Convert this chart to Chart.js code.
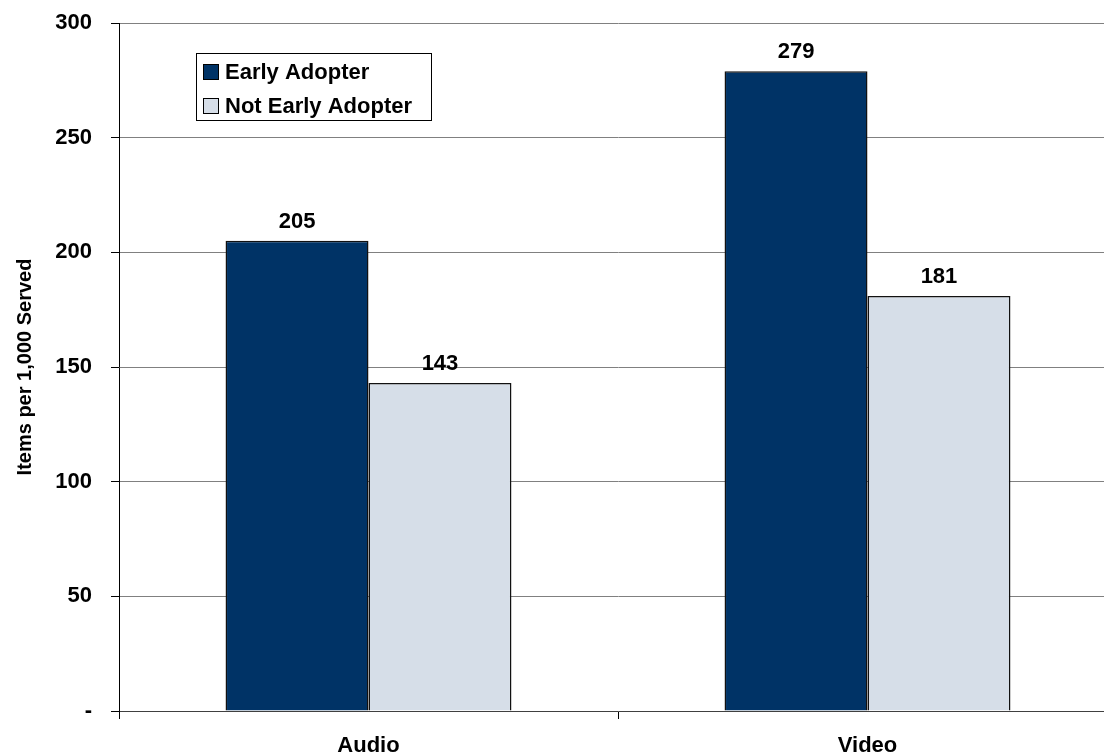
<!DOCTYPE html>
<html>
<head>
<meta charset="utf-8">
<script src="https://cdn.jsdelivr.net/npm/chart.js@4/dist/chart.umd.min.js"></script>
<style>
  html, body { margin: 0; padding: 0; background: #fff; overflow: hidden; }
  #wrap { width: 1130px; height: 755px; }
</style>
</head>
<body>
<div id="wrap"><canvas id="chart"></canvas></div>
<script>
// chart data
const categories = ['Audio', 'Video'];
const earlyAdopter = [205, 279];
const notEarlyAdopter = [143, 181];
const seriesNames = ['Early Adopter', 'Not Early Adopter'];
const yTicks = [0, 50, 100, 150, 200, 250, 300];

const FONT = 'Arial, "Liberation Sans", sans-serif';

// value labels above each bar
const valueLabels = {
  id: 'valueLabels',
  afterDatasetsDraw(chart) {
    const ctx = chart.ctx;
    ctx.save();
    ctx.font = 'bold 22px ' + FONT;
    ctx.fillStyle = '#000';
    ctx.textAlign = 'center';
    ctx.textBaseline = 'alphabetic';
    chart.data.datasets.forEach((ds, i) => {
      chart.getDatasetMeta(i).data.forEach((bar, j) => {
        ctx.fillText(String(ds.data[j]), bar.x, bar.y - 13);
      });
    });
    ctx.restore();
  }
};

// boxed legend in the upper left of the plot
const boxLegend = {
  id: 'boxLegend',
  afterDraw(chart) {
    const ctx = chart.ctx;
    const x = 196, y = 53, w = 235, h = 67;
    ctx.save();
    ctx.fillStyle = '#fff';
    ctx.fillRect(x, y, w, h);
    ctx.strokeStyle = '#000';
    ctx.lineWidth = 1;
    ctx.strokeRect(x + 0.5, y + 0.5, w, h);
    ctx.font = 'bold 22px ' + FONT;
    ctx.textBaseline = 'middle';
    ctx.textAlign = 'left';
    chart.data.datasets.forEach((ds, i) => {
      const cy = 72 + i * 34;
      ctx.fillStyle = ds.backgroundColor;
      ctx.fillRect(203, cy - 8, 15, 15);
      ctx.strokeStyle = '#000';
      ctx.strokeRect(203.5, cy - 7.5, 15, 15);
      ctx.fillStyle = '#000';
      ctx.fillText(ds.label, 225, cy + 1);
    });
    ctx.restore();
  }
};

new Chart(document.getElementById('chart'), {
  type: 'bar',
  data: {
    labels: categories,
    datasets: [{
      label: seriesNames[0],
      data: earlyAdopter,
      backgroundColor: '#003366',
      borderColor: '#111',
      borderWidth: 1.5
    }, {
      label: seriesNames[1],
      data: notEarlyAdopter,
      backgroundColor: '#D6DEE8',
      borderColor: '#111',
      borderWidth: 1.5
    }]
  },
  options: {
    responsive: true,
    maintainAspectRatio: false,
    animation: false,
    events: [],
    categoryPercentage: 0.573,
    barPercentage: 1,
    layout: { padding: { top: 23, right: 13, left: 0, bottom: 0 } },
    plugins: {
      legend: { display: false },
      tooltip: { enabled: false }
    },
    scales: {
      x: {
        offset: true,
        grid: {
          offset: true,
          drawOnChartArea: false,
          drawTicks: true,
          tickLength: 8,
          color: '#000'
        },
        border: { color: '#404040', width: 1 },
        ticks: {
          color: '#000',
          padding: 14,
          font: { family: FONT, size: 22, weight: 'bold' }
        },
        afterFit(scale) { scale.height = 44; }
      },
      y: {
        min: 0,
        max: 300,
        afterBuildTicks(scale) { scale.ticks = yTicks.map(v => ({ value: v })); },
        grid: {
          color: '#808080',
          tickColor: '#000',
          tickLength: 8,
          lineWidth: 1
        },
        border: { color: '#000', width: 1 },
        ticks: {
          color: '#000',
          padding: 19,
          font: { family: FONT, size: 22, weight: 'bold' },
          callback: v => (v === 0 ? '-' : v)
        },
        title: {
          display: true,
          text: 'Items per 1,000 Served',
          color: '#000',
          font: { family: FONT, size: 20, weight: 'bold' },
          padding: { top: 13, bottom: 0 }
        },
        afterFit(scale) {
          scale.width = 119;
          scale.paddingTop = 0;
          scale.paddingBottom = 0;
        }
      }
    }
  },
  plugins: [valueLabels, boxLegend]
});
</script>
</body>
</html>
